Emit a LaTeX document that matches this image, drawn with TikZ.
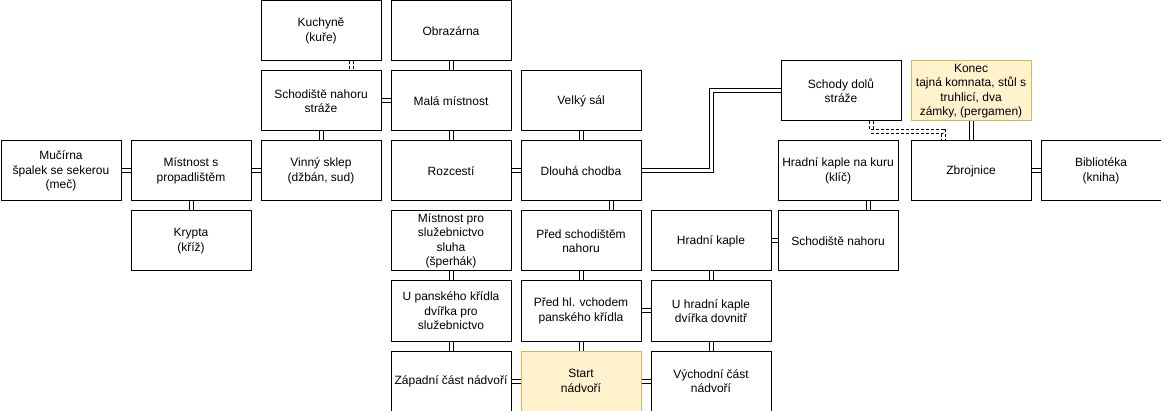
\documentclass[tikz,border=0pt]{standalone}
\usepackage{fontspec}
\setmainfont{Liberation Sans}
\definecolor{hlfill}{HTML}{FFF2CC}
\definecolor{hldraw}{HTML}{D6B656}
\begin{document}
\begin{tikzpicture}[x=1pt,y=1pt,
  room/.style={draw=black, fill=white, line width=1pt, minimum width=120pt, minimum height=60pt,
    inner sep=0pt, anchor=north west, align=center, font=\fontsize{12}{14.4}\selectfont},
  hl/.style={room, draw=hldraw, fill=hlfill},
  link/.style={draw=black, line width=1pt, double=white, double distance=3pt},
  dlink/.style={link, dash pattern=on 3pt off 2pt}]
\useasboundingbox (0,0) rectangle (1161,-411);
\begin{scope}[shift={(0.5,-0.5)}]
\node[room] (kuch) at (260,0) {Kuchyně\\(kuře)};
\node[room] (obra) at (390,0) {Obrazárna};
\node[room] (schs) at (260,-70) {Schodiště nahoru\\stráže};
\node[room] (mala) at (390,-70) {Malá místnost};
\node[room] (velk) at (520,-70) {Velký sál};
\node[room] (schd) at (780,-60) {Schody dolů\\stráže};
\node[hl] (konec) at (910,-60) {Konec\\tajná komnata, stůl s\\truhlicí, dva\\zámky, (pergamen)};
\node[room] (muc) at (0,-140) {Mučírna\\špalek se sekerou\\(meč)};
\node[room] (prop) at (130,-140) {Místnost s\\propadlištěm};
\node[room] (vinn) at (260,-140) {Vinný sklep\\(džbán, sud)};
\node[room] (rozc) at (390,-140) {Rozcestí};
\node[room] (dlou) at (520,-140) {Dlouhá chodba};
\node[room] (kuru) at (777,-140) {Hradní kaple na kuru\\(klíč)};
\node[room] (zbro) at (910,-140) {Zbrojnice};
\node[room] (bibl) at (1040,-140) {Bibliotéka\\(kniha)};
\node[room] (kryp) at (130,-210) {Krypta\\(kříž)};
\node[room] (sluz) at (390,-210) {Místnost pro\\služebnictvo\\sluha\\(šperhák)};
\node[room] (preds) at (520,-210) {Před schodištěm\\nahoru};
\node[room] (hkap) at (650,-210) {Hradní kaple};
\node[room] (schn) at (777,-210) {Schodiště nahoru};
\node[room] (upan) at (390,-280) {U panského křídla\\dvířka pro\\služebnictvo};
\node[room] (predh) at (520,-280) {Před hl. vchodem\\panského křídla};
\node[room] (uhka) at (650,-280) {U hradní kaple\\dvířka dovnitř};
\node[room] (zapa) at (390,-350) {Západní část nádvoří};
\node[hl] (start) at (520,-350) {Start\\nádvoří};
\node[room] (vych) at (650,-350) {Východní část\\nádvoří};

\draw[dlink] ([xshift=30pt]kuch.south) -- ([xshift=30pt]schs.north);
\draw[link] (obra.south) -- (mala.north);
\draw[link] (schs.east) -- (mala.west);
\draw[link] (schs.south) -- (vinn.north);
\draw[link] (mala.south) -- (rozc.north);
\draw[link] (muc.east) -- (prop.west);
\draw[link] (prop.east) -- (vinn.west);
\draw[link] (prop.south) -- (kryp.north);
\draw[link] (rozc.east) -- (dlou.west);
\draw[link] (velk.south) -- (dlou.north);
\draw[link] ([xshift=30pt]dlou.south) -- ([xshift=30pt]preds.north);
\draw[link] (sluz.south) -- (upan.north);
\draw[link] (upan.south) -- (zapa.north);
\draw[link] (zapa.east) -- (start.west);
\draw[link] (preds.south) -- (predh.north);
\draw[link] (predh.south) -- (start.north);
\draw[link] (predh.east) -- (uhka.west);
\draw[link] (start.east) -- (vych.west);
\draw[link] (hkap.south) -- (uhka.north);
\draw[link] (uhka.south) -- (vych.north);
\draw[link] (hkap.east) -- (schn.west);
\draw[link] ([xshift=30pt]kuru.south) -- ([xshift=30pt]schn.north);
\draw[link] (dlou.east) -- ++(70pt,0) |- (schd.west);
\draw[dlink] ([xshift=30pt]schd.south) -- ++(0,-10pt) -| ([xshift=-28pt]zbro.north);
\draw[link] (konec.south) -- (zbro.north);
\draw[link] (zbro.east) -- (bibl.west);
\end{scope}
\end{tikzpicture}
\end{document}
